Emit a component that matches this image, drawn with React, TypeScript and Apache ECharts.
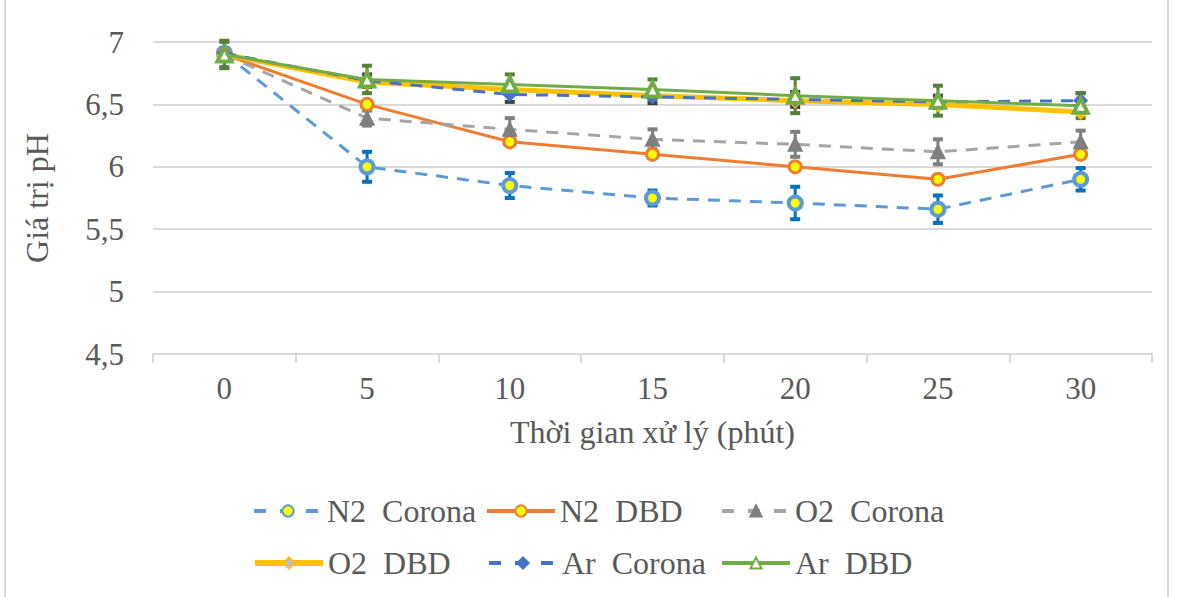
import React, { useEffect, useRef } from "react";
import * as echarts from "echarts";

const categories = ["0", "5", "10", "15", "20", "25", "30"];
const seriesNames = ["N2  Corona", "N2  DBD", "O2  Corona", "O2  DBD", "Ar  Corona", "Ar  DBD"];

const n2Corona = [6.91, 6.0, 5.85, 5.75, 5.71, 5.66, 5.9];
const n2Dbd = [6.9, 6.5, 6.2, 6.1, 6.0, 5.9, 6.1];
const o2Corona = [6.9, 6.39, 6.3, 6.22, 6.18, 6.12, 6.2];
const o2Dbd = [6.9, 6.68, 6.62, 6.57, 6.53, 6.5, 6.44];
const arCorona = [6.91, 6.69, 6.58, 6.56, 6.54, 6.52, 6.53];
const arDbd = [6.9, 6.7, 6.66, 6.62, 6.57, 6.53, 6.49];

const n2CoronaErr = [0.03, 0.12, 0.1, 0.06, 0.13, 0.11, 0.09];
const o2CoronaErr = [0.1, 0.06, 0.09, 0.08, 0.1, 0.1, 0.09];
const arCoronaErr = [0.04, 0.05, 0.06, 0.05, 0.06, 0.05, 0.06];
const arDbdErr = [0.11, 0.11, 0.08, 0.08, 0.14, 0.12, 0.1];

const FONT = "'Liberation Serif', 'Times New Roman', serif";
const TXT = "#595959";

function errSeries(values: number[], errs: number[], color: string, z: number) {
  return {
    type: "custom",
    z,
    silent: true,
    data: values.map((v, i) => [i, v, errs[i]]),
    encode: { x: 0, y: 1 },
    renderItem: (params: any, api: any) => {
      const i = api.value(0);
      const v = api.value(1);
      const e = api.value(2);
      const top = api.coord([i, v + e]);
      const bot = api.coord([i, v - e]);
      const hw = 5;
      const st = { stroke: color, lineWidth: 3 };
      return {
        type: "group",
        children: [
          { type: "line", shape: { x1: top[0], y1: top[1], x2: bot[0], y2: bot[1] }, style: st },
          { type: "line", shape: { x1: top[0] - hw, y1: top[1], x2: top[0] + hw, y2: top[1] }, style: { stroke: color, lineWidth: 4 } },
          { type: "line", shape: { x1: bot[0] - hw, y1: bot[1], x2: bot[0] + hw, y2: bot[1] }, style: { stroke: color, lineWidth: 4 } },
        ],
      };
    },
  };
}

export default function App() {
  const ref = useRef<HTMLDivElement>(null);
  useEffect(() => {
    if (!ref.current) return;
    const chart = echarts.init(ref.current, undefined, { renderer: "svg" });
    const legendPos = [
      [252, 495],
      [485, 495],
      [720, 495],
      [252, 547],
      [487, 547],
      [720, 547],
    ];
    const dash = [12, 9];
    const legendDash = [12, 14];
    const lineSeries = [
      {
        name: seriesNames[0], data: n2Corona, symbol: "circle", symbolSize: 13,
        lineStyle: { color: "#5B9BD5", width: 3, type: dash },
        itemStyle: { color: "#FFFF00", borderColor: "#5B9BD5", borderWidth: 4 },
      },
      {
        name: seriesNames[1], data: n2Dbd, symbol: "circle", symbolSize: 12,
        lineStyle: { color: "#ED7D31", width: 3, type: "solid" },
        itemStyle: { color: "#FFFF00", borderColor: "#ED7D31", borderWidth: 3 },
      },
      {
        name: seriesNames[2], data: o2Corona, symbol: "triangle", symbolSize: 13,
        lineStyle: { color: "#A5A5A5", width: 3, type: dash },
        itemStyle: { color: "#7F7F7F", borderColor: "#7F7F7F", borderWidth: 2 },
      },
      {
        name: seriesNames[3], data: o2Dbd, symbol: "diamond", symbolSize: 12,
        lineStyle: { color: "#FFC000", width: 5, type: "solid" },
        itemStyle: { color: "#BFBFBF", borderColor: "#FFC000", borderWidth: 3 },
      },
      {
        name: seriesNames[4], data: arCorona, symbol: "diamond", symbolSize: 14,
        lineStyle: { color: "#4472C4", width: 3, type: dash },
        itemStyle: { color: "#4472C4", borderColor: "#4472C4", borderWidth: 1 },
      },
      {
        name: seriesNames[5], data: arDbd, symbol: "triangle", symbolSize: 14,
        lineStyle: { color: "#70AD47", width: 3, type: "solid" },
        itemStyle: { color: "#FFFFFF", borderColor: "#70AD47", borderWidth: 4 },
      },
    ].map((s, k) => ({ ...s, type: "line", showSymbol: true, z: 3 + k * 0.01, emphasis: { disabled: true } }));

    chart.setOption({
      animation: false,
      backgroundColor: "#FFFFFF",
      grid: { left: 153, right: 27, top: 42, bottom: 243, containLabel: false },
      xAxis: {
        type: "category",
        data: categories,
        boundaryGap: true,
        name: "Thời gian xử lý (phút)",
        nameLocation: "middle",
        nameGap: 62,
        nameTextStyle: { fontFamily: FONT, fontSize: 32, color: TXT },
        axisLine: { show: true, lineStyle: { color: "#D9D9D9", width: 2 } },
        axisTick: { show: true, length: 9, lineStyle: { color: "#D9D9D9", width: 2 } },
        axisLabel: { fontFamily: FONT, fontSize: 31, color: TXT, margin: 19 },
        splitLine: { show: false },
      },
      yAxis: {
        type: "value",
        min: 4.5,
        max: 7,
        interval: 0.5,
        name: "Giá trị pH",
        nameLocation: "middle",
        nameGap: 100,
        nameRotate: 90,
        nameTextStyle: { fontFamily: FONT, fontSize: 32, color: TXT },
        axisLine: { show: false },
        axisTick: { show: false },
        axisLabel: {
          fontFamily: FONT, fontSize: 31, color: TXT, margin: 29,
          formatter: (v: number) => String(v).replace(".", ","),
        },
        splitLine: { show: true, lineStyle: { color: "#D9D9D9", width: 2 } },
      },
      legend: seriesNames.map((n, k) => {
        const s: any = lineSeries[k];
        const isDash = Array.isArray(s.lineStyle.type);
        return {
          data: [n],
          left: legendPos[k][0],
          top: legendPos[k][1],
          itemWidth: 68,
          itemHeight: 14,
          itemGap: 5,
          padding: 0,
          selectedMode: false,
          lineStyle: {
            width: k === 3 ? 6 : 4,
            type: isDash ? legendDash : "solid",
            color: s.lineStyle.color,
          },
          textStyle: { fontFamily: FONT, fontSize: 32, color: TXT },
        };
      }),
      graphic: [
        { type: "line", shape: { x1: 5, y1: 0, x2: 5, y2: 597 }, style: { stroke: "#D9D9D9", lineWidth: 2 } },
        { type: "line", shape: { x1: 1168, y1: 0, x2: 1168, y2: 597 }, style: { stroke: "#D9D9D9", lineWidth: 2 } },
      ],
      series: [
        errSeries(n2Corona, n2CoronaErr, "#0070C0", 2),
        errSeries(o2Corona, o2CoronaErr, "#7F7F7F", 2),
        errSeries(arCorona, arCoronaErr, "#404040", 2),
        errSeries(arDbd, arDbdErr, "#548235", 2),
        ...lineSeries,
      ],
    });
    return () => chart.dispose();
  }, []);
  return (
    <div
      ref={ref}
      style={{ position: "fixed", left: 0, top: 0, width: 1179, height: 597 }}
    />
  );
}
